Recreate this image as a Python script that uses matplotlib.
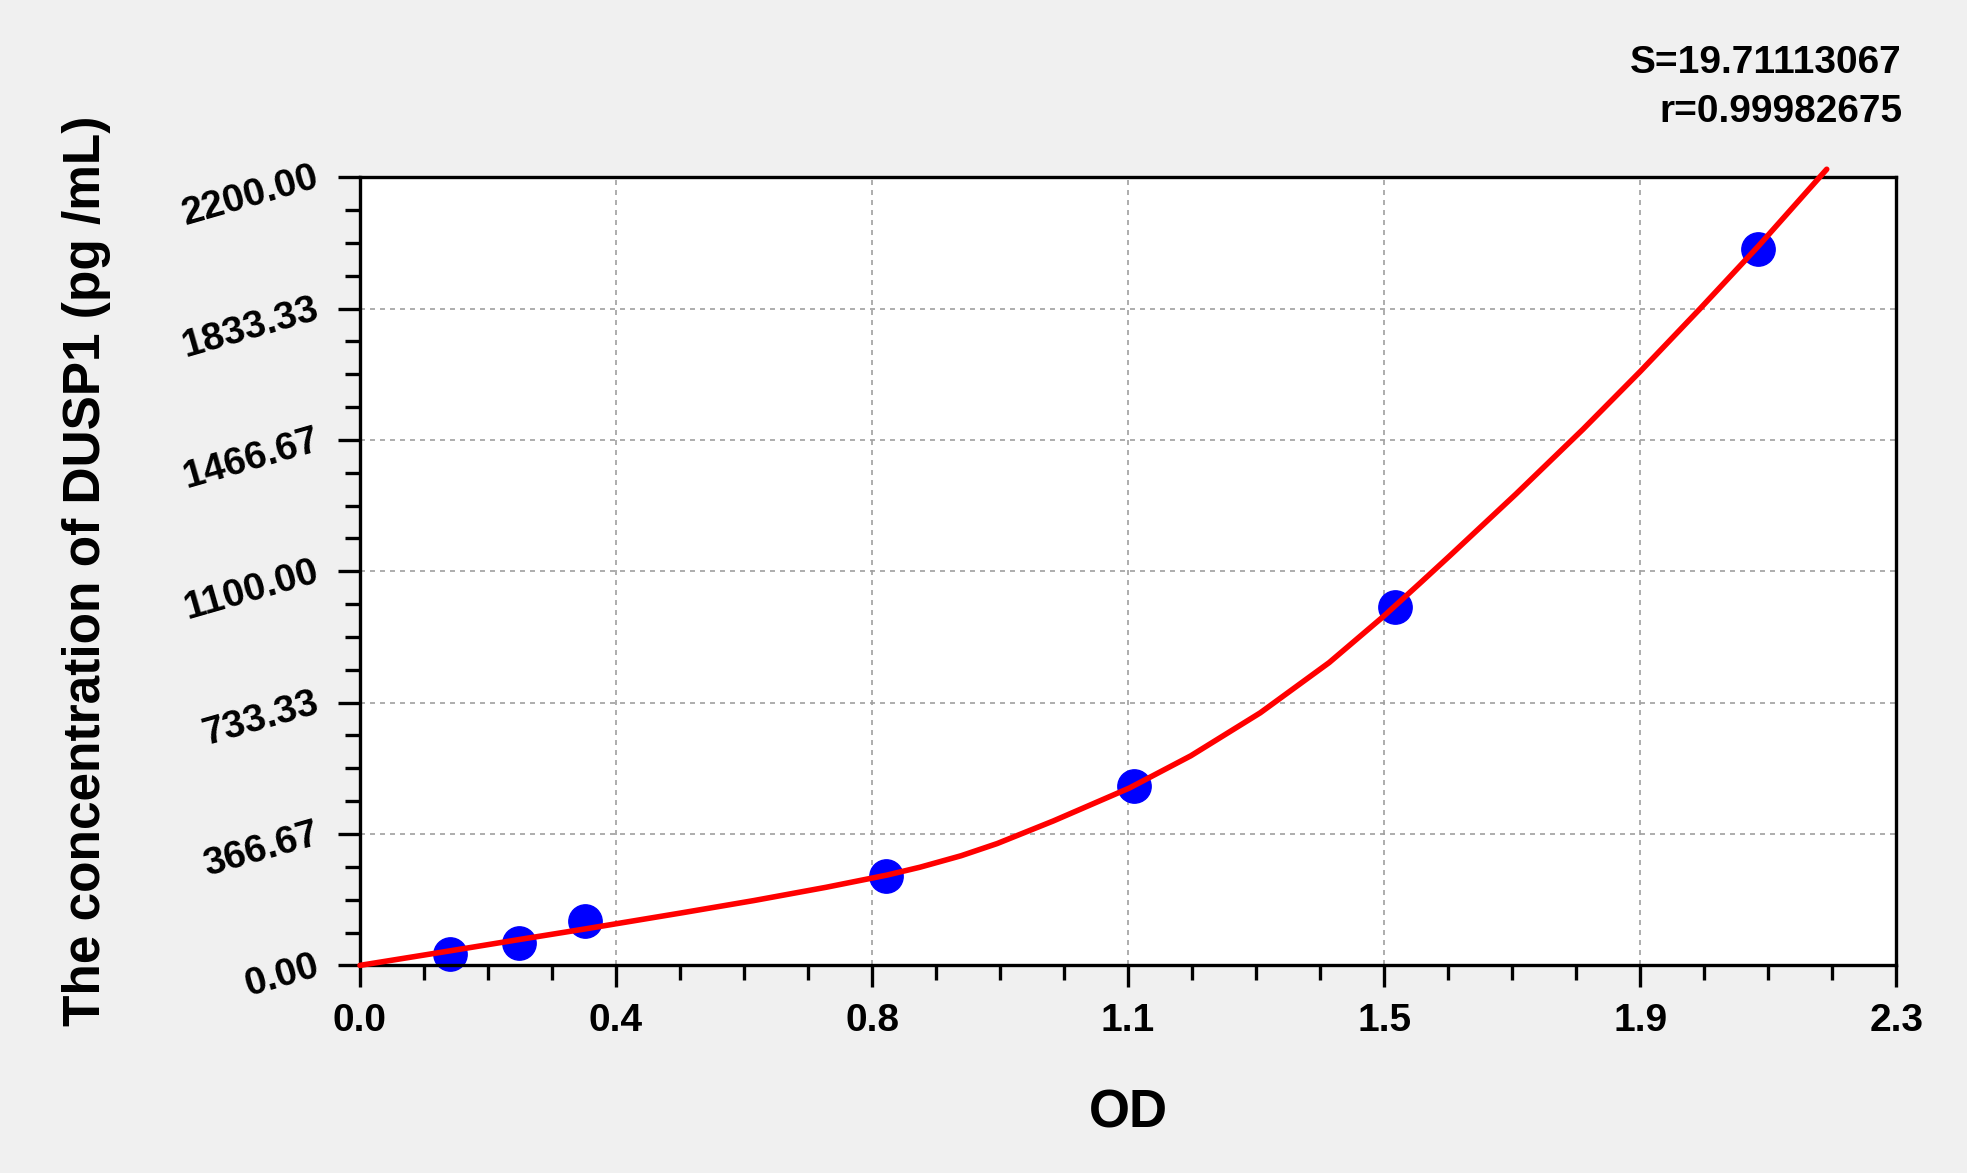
"""Standard curve for DUSP1 ELISA: OD versus concentration."""

import matplotlib

matplotlib.use("Agg")
import matplotlib.pyplot as plt
from matplotlib.ticker import AutoMinorLocator, FixedLocator

# standard points
od_points = [0.135, 0.238, 0.337, 0.788, 1.159, 1.549, 2.093]
conc_points = [31.25, 62.5, 125, 250, 500, 1000, 2000]

# fitted curve
curve_od = [0.0, 0.133, 0.238, 0.338, 0.383, 0.483, 0.590, 0.698, 0.789, 0.8385,
            0.900, 0.954, 1.038, 1.152, 1.244, 1.348, 1.451, 1.533, 1.589, 1.631,
            1.731, 1.831, 1.917, 2.006, 2.093, 2.196]
curve_conc = [0, 40, 72, 102, 116, 147, 181, 218, 252, 274,
              306, 340, 403, 495, 585, 705, 845, 975, 1070, 1142,
              1316, 1496, 1658, 1832, 2006, 2222]

x_ticks = [0.0, 2.3 / 6, 2.3 / 3, 1.15, 2.3 * 2 / 3, 2.3 * 5 / 6, 2.3]
x_tick_labels = ["0.0", "0.4", "0.8", "1.1", "1.5", "1.9", "2.3"]
y_ticks = [0, 366.67, 733.33, 1100, 1466.67, 1833.33, 2200]
y_tick_labels = ["0.00", "366.67", "733.33", "1100.00", "1466.67", "1833.33", "2200.00"]

s_text = "S=19.71113067"
r_text = "r=0.99982675"

plt.rcParams["font.family"] = ["Liberation Sans", "DejaVu Sans"]
plt.rcParams["font.weight"] = "bold"

fig = plt.figure(figsize=(19.67, 11.73), dpi=100, facecolor="#F0F0F0")
ax = fig.add_axes([0.183, 0.177, 0.781, 0.672])
ax.set_facecolor("white")

ax.plot(curve_od, curve_conc, color="#FF0000", linewidth=4.0, clip_on=False, zorder=3,
        solid_capstyle="round", solid_joinstyle="round")
ax.plot(od_points, conc_points, "o", color="#0000FF", markersize=24, zorder=2, clip_on=False)

ax.set_xlim(0, 2.3)
ax.set_ylim(0, 2200)
ax.xaxis.set_major_locator(FixedLocator(x_ticks))
ax.yaxis.set_major_locator(FixedLocator(y_ticks))
ax.set_xticklabels(x_tick_labels, fontsize=28, fontweight="bold")
ax.set_yticklabels(y_tick_labels, fontsize=28, fontweight="bold", rotation=16,
                   ha="right", va="center", rotation_mode="anchor")
ax.xaxis.set_minor_locator(AutoMinorLocator(4))
ax.yaxis.set_minor_locator(AutoMinorLocator(4))
ax.tick_params(which="major", direction="out", length=16, width=2.4)
ax.tick_params(which="minor", direction="out", length=11, width=2.4)
ax.tick_params(axis="x", which="major", pad=11)
ax.tick_params(axis="y", which="major", pad=14)

for spine in ax.spines.values():
    spine.set_linewidth(2.4)
    spine.set_color("black")

ax.grid(True, which="major", color="#A0A0A0", linestyle=(0, (3, 3)), linewidth=1.2)
ax.set_axisbelow(True)

ax.set_xlabel("OD", fontsize=38, fontweight="bold", va="center")
ax.xaxis.set_label_coords(0.5, -0.188)
ax.set_ylabel("The concentration of DUSP1 (pg /mL)", fontsize=37, fontweight="bold", va="center")
ax.yaxis.set_label_coords(-0.178, 0.5)

fig.text(0.967, 0.946, s_text, fontsize=28, fontweight="bold", ha="right", va="center")
fig.text(0.967, 0.9045, r_text, fontsize=28, fontweight="bold", ha="right", va="center")

fig.savefig("out.png", dpi=100, facecolor=fig.get_facecolor())
